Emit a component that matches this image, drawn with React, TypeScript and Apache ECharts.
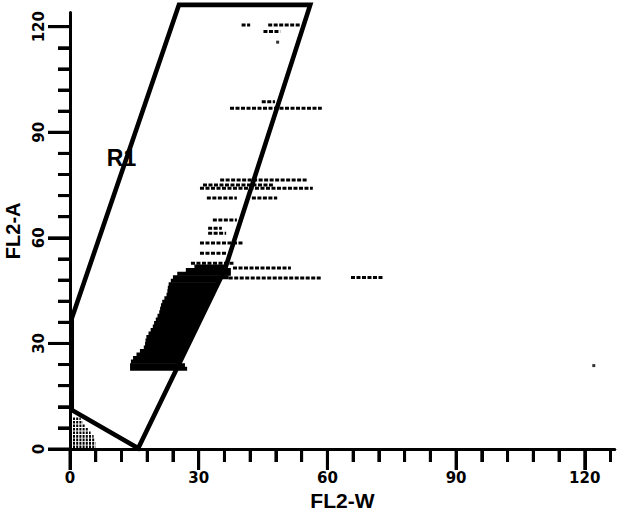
import React, { useEffect, useRef } from "react";
import * as echarts from "echarts";

// Axis ticks and labels
const xTickValues = [0, 6, 12, 18, 24, 30, 36, 42, 48, 54, 60, 66, 72, 78, 84, 90, 96, 102, 108, 114, 120, 126];
const yTickValues = [0, 6, 12, 18, 24, 30, 36, 42, 48, 54, 60, 66, 72, 78, 84, 90, 96, 102, 108, 114, 120];
const majorTicks = [0, 30, 60, 90, 120];

// Gate R1 vertices [FL2-W, FL2-A]
const gateR1 = [
  [0.4, 37.1], [25.4, 126.2], [56.0, 126.2], [36.1, 51.0], [15.9, 0.2], [0.4, 11.1], [0.4, 37.1],
];

// Dense event population (runs per FL2-A channel): [FL2-A, FL2-W start, FL2-W end]
const mainPopulation = [
  [22.8, 14.0, 27.3], [23.8, 14.0, 26.8], [24.8, 14.2, 26.0], [25.8, 14.7, 26.2],
  [26.8, 15.5, 26.6], [27.8, 16.3, 27.0], [28.8, 17.2, 27.4], [29.8, 17.5, 27.8],
  [30.8, 17.6, 28.2], [31.8, 17.8, 28.6], [32.8, 18.3, 29.0], [33.8, 18.8, 29.4],
  [34.8, 19.3, 29.8], [35.8, 19.6, 30.2], [36.8, 20.0, 30.6], [37.8, 20.4, 31.0],
  [38.8, 20.8, 31.3], [39.8, 21.0, 31.7], [40.8, 21.2, 32.1], [41.8, 21.5, 32.5],
  [42.8, 22.0, 32.9], [43.8, 22.5, 33.3], [44.8, 22.7, 33.7], [45.8, 22.8, 34.1],
  [46.8, 23.0, 34.5], [47.8, 23.5, 35.0], [48.8, 24.0, 37.0], [49.8, 25.0, 37.5],
  [50.8, 27.0, 37.5], [51.8, 29.0, 36.5],
];

// Debris near origin: [FL2-A, FL2-W start, FL2-W end]
const debris = [
  [0.6, 0.7, 6.0], [1.6, 0.7, 6.0], [2.6, 0.7, 5.8], [3.6, 0.7, 5.5], [4.6, 0.7, 4.8],
  [5.6, 0.7, 4.2], [6.6, 0.7, 3.6], [7.6, 0.7, 3.0], [8.6, 0.7, 2.5],
];

// Sparse event streaks: [FL2-A, FL2-W start, FL2-W end]
const streaks = [
  [48.6, 37.0, 58.5], [51.4, 38.0, 51.5], [48.7, 65.5, 73.2], [52.8, 28.2, 38.3],
  [55.6, 30.3, 36.6], [58.5, 30.3, 40.3], [61.3, 32.2, 36.4], [62.7, 32.2, 35.4],
  [65.1, 33.3, 38.9], [71.3, 31.9, 38.9], [71.3, 42.4, 48.3], [74.1, 30.3, 56.6],
  [75.0, 31.0, 47.3], [76.4, 35.0, 55.2], [96.8, 37.3, 58.7], [98.7, 44.7, 47.8],
  [120.5, 40.0, 42.0], [120.5, 46.2, 53.6], [118.6, 45.1, 49.0],
];

// Isolated events [FL2-W, FL2-A]
const singles = [[48.4, 115.6], [122.1, 23.7]];

// Region label position [FL2-W, FL2-A]
const regionLabel = [12.0, 82.6];
const regionName = "R1";

const X_MINOR = 13, X_MAJOR = 21, Y_MINOR = 12, Y_MAJOR = 22;

function runSeries(rows: number[][], thick: number, dash: number[] | null) {
  return {
    type: "custom",
    xAxisIndex: 0,
    yAxisIndex: 0,
    clip: false,
    silent: true,
    data: rows.map((r) => [r[1], r[2], r[0]]),
    encode: { x: [0, 1], y: 2 },
    renderItem: (params: any, api: any) => {
      const p1 = api.coord([api.value(0), api.value(2)]);
      const p2 = api.coord([api.value(1), api.value(2)]);
      if (dash) {
        return {
          type: "line",
          shape: { x1: p1[0], y1: p1[1], x2: p2[0], y2: p2[1] },
          style: { stroke: "#000", lineWidth: thick, lineDash: dash },
        };
      }
      return {
        type: "rect",
        shape: { x: p1[0], y: p1[1] - thick / 2, width: p2[0] - p1[0], height: thick },
        style: { fill: "#000" },
      };
    },
  };
}

const numFont = { fontFamily: "DejaVu Sans", fontWeight: "bold", fontSize: 15, color: "#000" };
const nameFont = { fontFamily: "Liberation Sans", fontWeight: "bold", fontSize: 20, color: "#000" };
const labelOnMajor = (v: number) => (majorTicks.indexOf(v) >= 0 ? String(v) : "");
const blackLine = { show: true, lineStyle: { color: "#000", width: 3 } };

// Tick-only axis (grids 1 and 2 share the main grid's scale, ending exactly on the last tick)
function tickAxis(gridIndex: number, max: number, interval: number, len: number) {
  return {
    gridIndex, type: "value", min: 0, max, interval,
    axisLine: blackLine,
    axisTick: { show: true, inside: false, length: len, lineStyle: { color: "#000", width: 3 } },
    axisLabel: { show: false },
    splitLine: { show: false },
  };
}

export default function App() {
  const ref = useRef<HTMLDivElement>(null);
  useEffect(() => {
    if (!ref.current) return;
    const chart = echarts.init(ref.current, null, { renderer: "svg" });
    chart.setOption({
      animation: false,
      grid: [
        { left: 70, right: 5.2, top: 12.6, bottom: 71, containLabel: false, outerBoundsMode: "none" },
        { left: 70, right: 9.5, top: 26.7, bottom: 71, containLabel: false, outerBoundsMode: "none" },
        { left: 70, right: 35.2, top: 26.7, bottom: 71, containLabel: false, outerBoundsMode: "none" },
      ],
      xAxis: [
        {
          gridIndex: 0, type: "value", min: 0, max: 127,
          axisLine: blackLine,
          axisTick: { show: false },
          axisLabel: { show: true, customValues: majorTicks, formatter: labelOnMajor, margin: 21, ...numFont },
          splitLine: { show: false },
          name: "FL2-W", nameLocation: "middle", nameGap: 41, nameTextStyle: { ...nameFont, fontSize: 21 },
        },
        tickAxis(1, xTickValues[xTickValues.length - 1], 6, X_MINOR),
        tickAxis(2, majorTicks[majorTicks.length - 1], 30, X_MAJOR),
      ],
      yAxis: [
        {
          gridIndex: 0, type: "value", min: 0, max: 124,
          axisLine: blackLine,
          axisTick: { show: false },
          axisLabel: { show: true, customValues: majorTicks, formatter: labelOnMajor, rotate: 90, margin: 24, ...numFont },
          splitLine: { show: false },
          name: "FL2-A", nameLocation: "middle", nameGap: 47, nameRotate: 90, nameTextStyle: nameFont,
        },
        tickAxis(1, yTickValues[yTickValues.length - 1], 6, Y_MINOR),
        tickAxis(2, majorTicks[majorTicks.length - 1], 30, Y_MAJOR),
      ],
      series: [
        runSeries(mainPopulation, 4.2, null),
        runSeries(debris, 2.6, [2, 1.2]),
        runSeries(streaks, 3, [4, 1.5]),
        {
          type: "scatter", xAxisIndex: 0, yAxisIndex: 0, data: singles,
          symbol: "rect", symbolSize: 3, itemStyle: { color: "#000" }, silent: true,
        },
        {
          type: "line", xAxisIndex: 0, yAxisIndex: 0, data: gateR1, clip: false,
          symbol: "none", silent: true,
          lineStyle: { color: "#000", width: 4.6, join: "miter" },
        },
      ],
    });

    // Backup tick layer placed through the main axes' scales + region label
    const toPx = (v: number[]) => chart.convertToPixel({ xAxisIndex: 0, yAxisIndex: 0 }, v) as number[];
    const elements: any[] = [];
    xTickValues.forEach((v) => {
      const p = toPx([v, 0]);
      const len = majorTicks.indexOf(v) >= 0 ? X_MAJOR : X_MINOR;
      elements.push({
        type: "rect", silent: true,
        shape: { x: p[0] - 1.5, y: p[1], width: 3, height: len },
        style: { fill: "#000" },
      });
    });
    yTickValues.forEach((v) => {
      const p = toPx([0, v]);
      const len = majorTicks.indexOf(v) >= 0 ? Y_MAJOR : Y_MINOR;
      elements.push({
        type: "rect", silent: true,
        shape: { x: p[0] - len, y: p[1] - 1.5, width: len, height: 3 },
        style: { fill: "#000" },
      });
    });
    const lp = toPx(regionLabel);
    elements.push({
      type: "text", silent: true, x: lp[0], y: lp[1],
      style: {
        text: regionName, fill: "#000", align: "center", verticalAlign: "middle",
        font: "bold 23px 'Liberation Sans'",
      },
    });
    chart.setOption({ graphic: { elements } });
    return () => chart.dispose();
  }, []);
  return <div ref={ref} style={{ position: "absolute", left: 0, top: 0, width: 620, height: 520, background: "#fff" }} />;
}
